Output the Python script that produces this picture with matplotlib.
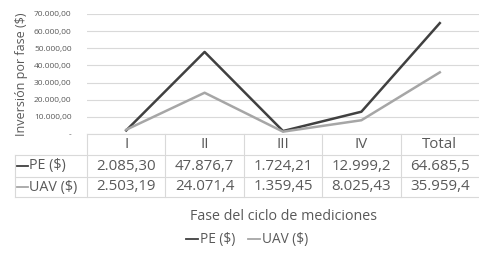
import numpy as np
import matplotlib.pyplot as plt
from matplotlib.lines import Line2D
from matplotlib.transforms import blended_transform_factory

# data
fases = ['I', 'II', 'III', 'IV', 'Total']
pe = [2085.30, 47876.7, 1724.21, 12999.2, 64685.5]
uav = [2503.19, 24071.4, 1359.45, 8025.43, 35959.4]
pe_txt = ['2.085,30', '47.876,7', '1.724,21', '12.999,2', '64.685,5']
uav_txt = ['2.503,19', '24.071,4', '1.359,45', '8.025,43', '35.959,4']
yticks = [0, 10000, 20000, 30000, 40000, 50000, 60000, 70000]

plt.rcParams['font.family'] = ['Open Sans', 'DejaVu Sans']
txt_color = '#595959'
grid_color = '#d9d9d9'
pe_color = '#404040'
uav_color = '#a6a6a6'

W, H = 479, 259
fig = plt.figure(figsize=(W / 100, H / 100), dpi=100)
left, right, top, bottom = 87, 479, 14, 134
ax = fig.add_axes([left / W, 1 - bottom / H, (right - left) / W, (bottom - top) / H])

x = np.arange(len(fases))
ax.plot(x, pe, color=pe_color, lw=1.8)
ax.plot(x, uav, color=uav_color, lw=1.8)
ax.set_xlim(-0.5, len(fases) - 0.5)
ax.set_ylim(0, 70000)

ax.set_yticks(yticks)
ax.set_yticklabels(['-'] + ['{:,.2f}'.format(v).replace(',', 'X').replace('.', ',').replace('X', '.')
                            for v in yticks[1:]])
ax.tick_params(axis='y', length=0, pad=11, labelsize=6, labelcolor=txt_color)
ax.set_xticks([])
ax.grid(axis='y', color=grid_color, lw=0.8)
ax.set_axisbelow(True)
for s in ['top', 'right', 'left']:
    ax.spines[s].set_visible(False)
ax.spines['bottom'].set_color(grid_color)
ax.set_ylabel('Inversión por fase ($)', fontsize=9, color=txt_color, labelpad=4)

# data table under the axis
tr = blended_transform_factory(ax.transData, ax.transAxes)
ph = bottom - top
def fy(py):
    return (bottom - py) / ph

row_top, row1, row2, row_end = 134, 155, 177, 197
label_left = -0.5 - (left - 15) / ((right - left) / len(fases))
for yy in [row1, row2, row_end]:
    ax.add_line(Line2D([label_left, len(fases) - 0.5], [fy(yy)] * 2, transform=tr,
                       color=grid_color, lw=0.8, clip_on=False))
for xx in np.arange(len(fases)) - 0.5:
    ax.add_line(Line2D([xx, xx], [fy(row_top), fy(row_end)], transform=tr,
                       color=grid_color, lw=0.8, clip_on=False))
ax.add_line(Line2D([label_left] * 2, [fy(row1), fy(row_end)], transform=tr,
                   color=grid_color, lw=0.8, clip_on=False))

fs = 10.8
for i, f in enumerate(fases):
    ax.text(i, fy((row_top + row1) / 2), f, transform=tr, ha='center', va='center',
            fontsize=fs, color=txt_color)
    ax.text(i, fy((row1 + row2) / 2), pe_txt[i], transform=tr, ha='center', va='center',
            fontsize=fs, color=txt_color)
    ax.text(i, fy((row2 + row_end) / 2), uav_txt[i], transform=tr, ha='center', va='center',
            fontsize=fs, color=txt_color)

for yy0, yy1, lab, col in [(row1, row2, 'PE ($)', pe_color), (row2, row_end, 'UAV ($)', uav_color)]:
    yc = fy((yy0 + yy1) / 2)
    ax.add_line(Line2D([label_left + 0.02, label_left + 0.17], [yc, yc], transform=tr,
                       color=col, lw=1.3, clip_on=False))
    ax.text(label_left + 0.18, yc, lab, transform=tr, ha='left', va='center',
            fontsize=10.3, color=txt_color)

fig.text((left + right) / 2 / W, 1 - 217 / H, 'Fase del ciclo de mediciones',
         ha='center', va='center', fontsize=10.3, color=txt_color)

handles = [Line2D([], [], color=pe_color, lw=1.3), Line2D([], [], color=uav_color, lw=1.3)]
fig.legend(handles, ['PE ($)', 'UAV ($)'], loc='center', bbox_to_anchor=(247 / W, 1 - 240 / H),
           ncol=2, frameon=False, fontsize=9.8, handlelength=0.9, handletextpad=0.15,
           columnspacing=0.9, labelcolor=txt_color)

fig.savefig('out.png', dpi=100)
